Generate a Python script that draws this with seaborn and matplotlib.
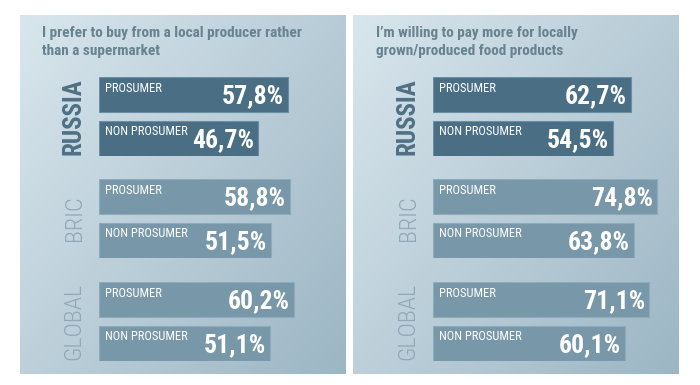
import numpy as np
import matplotlib
matplotlib.use('Agg')
import matplotlib.pyplot as plt
from matplotlib import font_manager
import seaborn as sns

titles = ['I prefer to buy from a local producer rather\nthan a supermarket',
          'I\u2019m willing to pay more for locally\ngrown/produced food products']
groups = ['RUSSIA', 'BRIC', 'GLOBAL']
segments = ['PROSUMER', 'NON PROSUMER']
local_producer = [[57.8, 46.7], [58.8, 51.5], [60.2, 51.1]]
pay_more = [[62.7, 54.5], [74.8, 63.8], [71.1, 60.1]]

W, H = 700, 385

installed = {f.name for f in font_manager.fontManager.ttflist}
narrow = [n for n in ['Liberation Sans Narrow', 'DejaVu Sans Condensed',
                      'Roboto Condensed', 'Open Sans Condensed', 'Roboto']
          if n in installed]
FONT = narrow[:1] + ['DejaVu Sans']

sns.set_style('white')
plt.rcParams['font.family'] = FONT

panels = [
    dict(x0=20, x1=346, bl=99, base=-13.4, scale=2.65, data=local_producer, title=titles[0], tx=42),
    dict(x0=353, x1=679, bl=433, base=-28.6, scale=2.17, data=pay_more, title=titles[1], tx=376),
]
group_tops = [77, 179, 282]
group_h = 79
bar_w = 0.816

bar_colors = ['#4a6f85', '#7897a9', '#7897a9']
edge_colors = ['#6a8fa4', '#8eabbb', '#8eabbb']
label_colors = ['#4f7085', '#8ea9b8', '#8ea9b8']
label_weights = ['bold', 'light', 'light']
label_sizes = [18, 17.5, 17.5]


def fig_rect(x, y, w, h):
    return [x / W, 1 - (y + h) / H, w / W, h / H]


fig = plt.figure(figsize=(7, 3.85), dpi=100)

for p in panels:
    bg = fig.add_axes(fig_rect(p['x0'], 15, p['x1'] - p['x0'], 359))
    xx, yy = np.meshgrid(np.linspace(0, 1, 200), np.linspace(0, 1, 200))
    t = (0.55 * xx + 0.45 * yy)[..., None]
    c0 = np.array([217, 230, 237]) / 255
    c1 = np.array([156, 182, 196]) / 255
    bg.imshow(c0 * (1 - t) + c1 * t, aspect='auto', extent=(0, 1, 0, 1))
    bg.set_axis_off()

    fig.text(p['tx'] / W, 1 - 26 / H, p['title'], ha='left', va='top',
             fontsize=11, fontweight='bold', color='#67838f',
             linespacing=1.35, family=FONT)

    span = p['x1'] - p['bl']
    for gi, g in enumerate(groups):
        ax = fig.add_axes(fig_rect(p['bl'], group_tops[gi], span, group_h))
        vals = p['data'][gi]
        sns.barplot(x=vals, y=segments, orient='h', width=bar_w,
                    color=bar_colors[gi], saturation=1,
                    edgecolor=edge_colors[gi], linewidth=0.8, ax=ax)
        for patch in ax.patches:
            w = patch.get_width()
            patch.set_x(p['base'])
            patch.set_width(w - p['base'])
        ax.set_xlim(p['base'], p['base'] + span / p['scale'])
        ax.set_ylim(1 + bar_w / 2, -bar_w / 2)
        ax.set_facecolor('none')
        ax.set_axis_off()

        for i, (seg, v) in enumerate(zip(segments, vals)):
            ax.annotate(seg, xy=(p['base'], i - bar_w / 2), xytext=(4.3, -10.5),
                        textcoords='offset points', ha='left', va='baseline',
                        fontsize=9, color='white', family=FONT)
            ax.annotate(f'{v:.1f}%'.replace('.', ','), xy=(v, i),
                        xytext=(-3, -6.2), textcoords='offset points',
                        ha='right', va='baseline', fontsize=18.5,
                        fontweight='bold', color='white', family=FONT)

        ax.text(-25 / span, 0.5, g, transform=ax.transAxes, rotation=90,
                ha='center', va='center', fontsize=label_sizes[gi],
                fontweight=label_weights[gi], color=label_colors[gi],
                family=FONT)

fig.savefig('out.png', dpi=100)
